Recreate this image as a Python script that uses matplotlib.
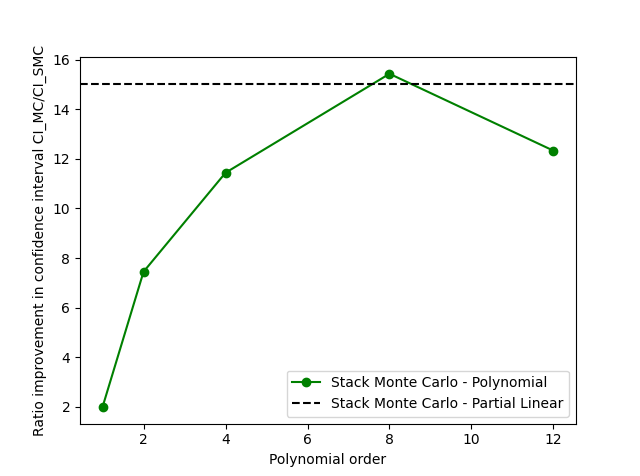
import matplotlib
matplotlib.use("Agg")
import matplotlib.pyplot as plt

orders = [1, 2, 4, 8, 12]
ratios = [2.0, 7.45, 11.44, 15.43, 12.33]
partial_linear = 15.03

fig, ax = plt.subplots(figsize=(6.4, 4.76), dpi=100)
ax.plot(orders, ratios, 'o-', color='green', label='Stack Monte Carlo - Polynomial')
ax.axhline(partial_linear, color='black', linestyle='--', label='Stack Monte Carlo - Partial Linear')
ax.set_xlabel('Polynomial order')
ax.set_ylabel('Ratio improvement in confidence interval CI_MC/CI_SMC')
ax.legend(loc='lower right')
fig.savefig('out.png', dpi=100)
